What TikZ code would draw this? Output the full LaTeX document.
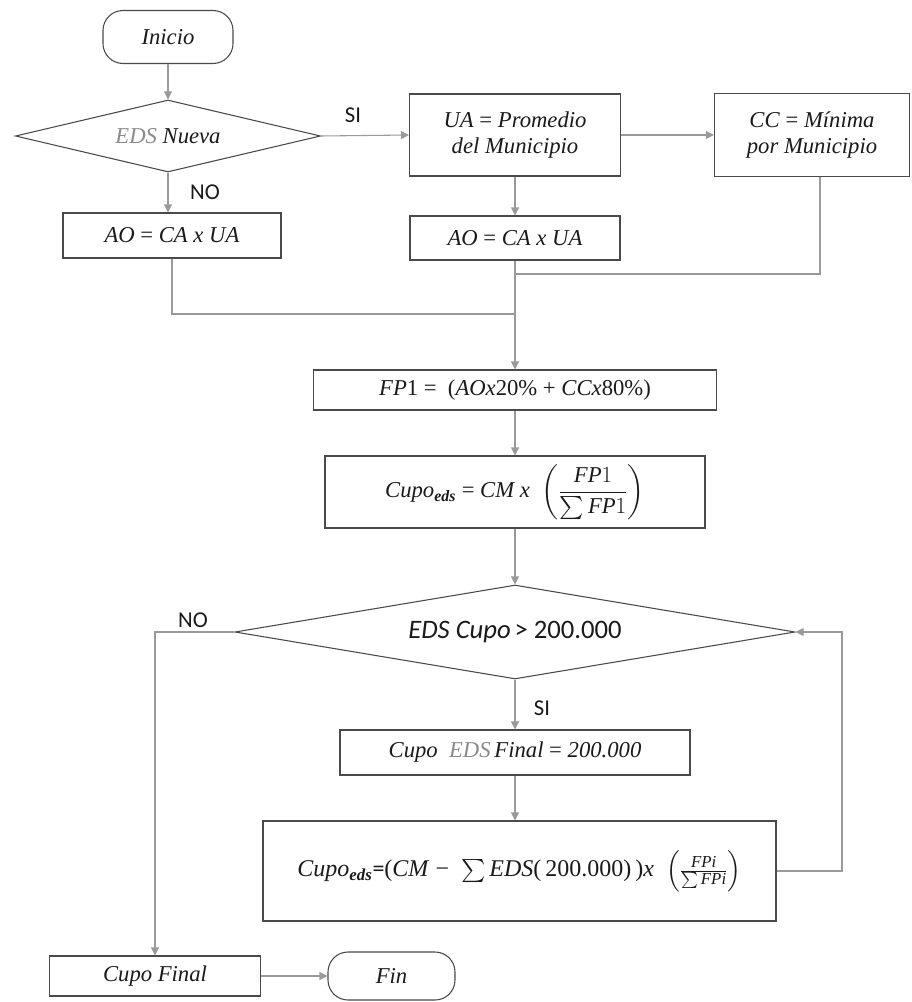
\documentclass[tikz,border=0pt]{standalone}
\usepackage{fontspec}
\setmainfont{Liberation Serif}
\newfontfamily\calibri{Carlito}
\usepackage{amsmath}
\usetikzlibrary{shapes.geometric,arrows.meta}
\definecolor{lnc}{HTML}{9A9A9A}
\definecolor{bord}{HTML}{4A4A4A}
\definecolor{edsc}{HTML}{8A8A8A}
\definecolor{txt}{HTML}{1A1A1A}
\newcommand\mainsz{\fontsize{17}{20}\selectfont}
\tikzset{
  box/.style={draw=bord, line width=0.8pt, fill=white, inner sep=2pt, align=center, font=\mainsz, text=txt},
  term/.style={box, rounded corners=15pt},
  dec/.style={box, diamond, inner sep=0pt},
  conn/.style={draw=lnc, line width=0.8pt},
  arr/.style={conn, -{Triangle[length=6pt,width=6pt]}},
  lbl/.style={font=\calibri\fontsize{17}{19}\selectfont, text=txt},
}
\begin{document}
\begin{tikzpicture}[x=0.75pt,y=-0.75pt]
\useasboundingbox (0,0) rectangle (912,1002);
% nodes
\node[term, minimum width=97.5pt, minimum height=39.75pt] (inicio) at (168,37) {\textit{Inicio}};
\node[dec, aspect=4.24, minimum width=228.75pt, minimum height=54pt] (d1) at (168,136) {\textit{\textcolor{edsc}{EDS} Nueva}};
\node[box, minimum width=163.5pt, minimum height=33.75pt] (aoL) at (172,235.5) {\textit{AO} = \textit{CA x UA}};
\node[box, minimum width=158.25pt, minimum height=61.5pt] (ua) at (515,135) {\textit{UA} = \textit{Promedio}\\[-1pt]\textit{del Municipio}};
\node[box, minimum width=146.25pt, minimum height=62.25pt] (cc) at (812,135) {\textit{CC} = \textit{Mínima}\\[-1pt]\textit{por Municipio}};
\node[box, minimum width=157.5pt, minimum height=33pt] (aoM) at (515,238) {\textit{AO} = \textit{CA x UA}};
\node[box, minimum width=302.25pt, minimum height=30pt] (fp1) at (515,390) {\textit{FP}1 =\ \ (\textit{AOx}20\% + \textit{CCx}80\%)};
\node[box, minimum width=285pt, minimum height=54pt] (cupo) at (515,492) {\textit{Cupo}\textsubscript{\textbf{\textit{eds}}} = \textit{CM x} \ $\left(\dfrac{\mathit{FP}1}{\sum \mathit{FP}1}\right)$};
\node[dec, aspect=6, minimum width=420pt, minimum height=70.5pt] (d2) at (515,632) {{\calibri\fontsize{20}{24}\selectfont\itshape EDS Cupo}\,{\calibri\fontsize{20}{24}\selectfont > 200.000}};
\node[box, minimum width=262.5pt, minimum height=33.75pt] (final) at (515,752.5) {\textit{Cupo\ \ \textcolor{edsc}{EDS}\,Final} = \textit{200.000}};
\node[box, minimum width=384.75pt, minimum height=75pt, font=\fontsize{18}{21}\selectfont] (cupoeds) at (519.5,871) {\textit{Cupo}\textsubscript{\textbf{\textit{eds}}}{\calibri =}(\textit{CM} − \ $\sum$\,\textit{EDS}(\,200.000)\,)\textit{x} \ $\left(\frac{\mathit{FPi}}{\sum \mathit{FPi}}\right)$};
\node[box, minimum width=158.25pt, minimum height=30pt] (cupofinal) at (155,976) {\textit{Cupo Final}};
\node[term, minimum width=95.25pt, minimum height=36pt] (fin) at (391.5,976) {\textit{Fin}};
% junction coordinates
\coordinate (aolc) at (172,314);
\coordinate (j1) at (515,314);
\coordinate (ccc) at (820,274);
\coordinate (j2) at (515,274);
\coordinate (loopx) at (842,871);
\coordinate (nox) at (155,632);
% connectors
\draw[arr] (inicio.south) -- (d1.north);
\draw[arr] (d1.south) -- (d1.south |- aoL.north);
\draw[arr] (d1.east) -- (ua.west);
\draw[arr] (ua.east) -- (cc.west);
\draw[arr] (ua.south) -- (aoM.north);
\draw[conn] (aoL.south -| aolc) -- (aolc) -- (j1);
\draw[conn] ([xshift=6pt]cc.south) -- (ccc) -- (j2);
\draw[arr] (aoM.south) -- (fp1.north);
\draw[arr] (fp1.south) -- (cupo.north);
\draw[arr] (cupo.south) -- (d2.north);
\draw[arr] (d2.south) -- (final.north);
\draw[arr] (final.south) -- (final.south |- cupoeds.north);
\draw[arr] (cupoeds.east) -- (loopx) |- (d2.east);
\draw[arr] (d2.west) -- (nox) -- (cupofinal.north);
\draw[arr] (cupofinal.east) -- (fin.west);
% labels
\node[lbl] (noA) at (205,192) {NO};
\node[lbl] (siA) at (353,115) {SI};
\node[lbl] (siB) at (542,708) {SI};
\node[lbl] (noB) at (193,620) {NO};
\end{tikzpicture}
\end{document}
